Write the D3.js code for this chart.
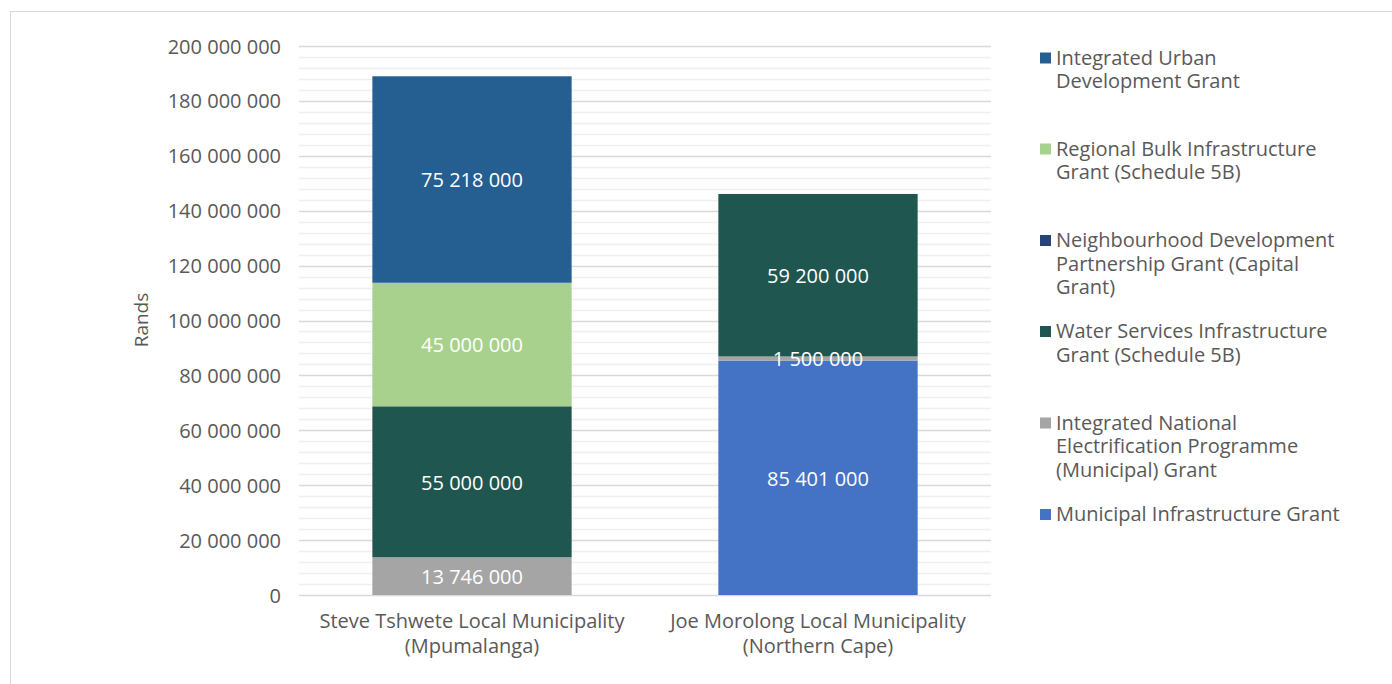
<!DOCTYPE html>
<html><head><meta charset="utf-8">
<script src="https://cdn.jsdelivr.net/npm/d3@7"></script>
<style>
html,body{margin:0;padding:0;background:#fff;}
svg{display:block;font-family:"Open Sans","Noto Sans",sans-serif;}
</style></head>
<body><svg id="c" width="1392" height="684"></svg>
<script>
const categories = [
  ["Steve Tshwete Local Municipality", "(Mpumalanga)"],
  ["Joe Morolong Local Municipality", "(Northern Cape)"]
];
const seriesNames = [
  "Municipal Infrastructure Grant",
  "Integrated National Electrification Programme (Municipal) Grant",
  "Water Services Infrastructure Grant (Schedule 5B)",
  "Neighbourhood Development Partnership Grant (Capital Grant)",
  "Regional Bulk Infrastructure Grant (Schedule 5B)",
  "Integrated Urban Development Grant"
];
const legendLines = [
  ["Municipal Infrastructure Grant"],
  ["Integrated National", "Electrification Programme", "(Municipal) Grant"],
  ["Water Services Infrastructure", "Grant (Schedule 5B)"],
  ["Neighbourhood Development", "Partnership Grant (Capital", "Grant)"],
  ["Regional Bulk Infrastructure", "Grant (Schedule 5B)"],
  ["Integrated Urban", "Development Grant"]
];
const seriesColors = ["#4472C4", "#A5A5A5", "#1F564F", "#264478", "#A9D18E", "#255E91"];
const steveValues = [0, 13746000, 55000000, 0, 45000000, 75218000];
const joeValues = [85401000, 1500000, 59200000, 0, 0, 0];
const yTicks = [0, 20000000, 40000000, 60000000, 80000000, 100000000, 120000000, 140000000, 160000000, 180000000, 200000000];
const minorStep = 4000000;
const yTitle = "Rands";

(function () {
const svg = d3.select("#c");
svg.append("rect").attr("x", 10.5).attr("y", 11.5).attr("width", 1400).attr("height", 700)
  .attr("fill", "none").attr("stroke", "#d9d9d9").attr("stroke-width", 1);

const pL = 299, pR = 991, pT = 46, pB = 595;
const x = d3.scaleBand().domain(categories.map((d, i) => i)).range([pL, pR]).paddingInner(0.424).paddingOuter(0.212);
const y = d3.scaleLinear().domain([0, 200000000]).range([pB, pT]);

const fmt = v => d3.format(",")(v).replace(/,/g, " ");
const FS = 20;

const minor = d3.range(0, 200000001, minorStep).filter(v => v % 20000000 !== 0);
svg.append("g").selectAll("line").data(minor).join("line")
  .attr("x1", pL).attr("x2", pR)
  .attr("y1", d => Math.round(y(d)) + 0.5).attr("y2", d => Math.round(y(d)) + 0.5)
  .attr("stroke", "#f0f0f0").attr("stroke-width", 1.5);
svg.append("g").selectAll("line").data(yTicks).join("line")
  .attr("x1", pL).attr("x2", pR)
  .attr("y1", d => Math.round(y(d)) + 0.5).attr("y2", d => Math.round(y(d)) + 0.5)
  .attr("stroke", "#d9d9d9").attr("stroke-width", 1.5);

const yAxis = svg.append("g").attr("transform", `translate(${pL - 18},0)`)
  .call(d3.axisLeft(y).tickValues(yTicks).tickFormat(fmt).tickSize(0).tickPadding(0));
yAxis.select(".domain").remove();
yAxis.selectAll("text").attr("fill", "#595959").attr("font-size", FS)
  .attr("font-family", "'Open Sans','Noto Sans',sans-serif").attr("dy", "0.35em");

svg.append("text").attr("transform", `translate(148,320) rotate(-90)`)
  .attr("text-anchor", "middle").attr("fill", "#595959").attr("font-size", 19).text(yTitle);

const rows = [steveValues, joeValues].map((vals, i) => {
  const o = { cat: i };
  seriesNames.forEach((s, j) => o[s] = vals[j]);
  return o;
});
const stacked = d3.stack().keys(seriesNames)(rows);

const gBars = svg.append("g");
stacked.forEach((layer, j) => {
  layer.forEach(seg => {
    const v = seg[1] - seg[0];
    if (v <= 0) return;
    gBars.append("rect")
      .attr("x", x(seg.data.cat)).attr("width", x.bandwidth())
      .attr("y", y(seg[1])).attr("height", y(seg[0]) - y(seg[1]))
      .attr("fill", seriesColors[j]);
  });
});
stacked.forEach((layer, j) => {
  layer.forEach(seg => {
    const v = seg[1] - seg[0];
    if (v <= 0) return;
    gBars.append("text")
      .attr("x", x(seg.data.cat) + x.bandwidth() / 2)
      .attr("y", (y(seg[0]) + y(seg[1])) / 2 + 2.5)
      .attr("text-anchor", "middle").attr("dominant-baseline", "middle")
      .attr("fill", "#ffffff").attr("font-size", FS).text(fmt(v));
  });
});

categories.forEach((lines, i) => {
  const t = svg.append("text").attr("text-anchor", "middle").attr("fill", "#595959").attr("font-size", FS);
  lines.forEach((ln, k) => {
    t.append("tspan").attr("x", x(i) + x.bandwidth() / 2).attr("y", 628 + k * 25).text(ln);
  });
});

const legendY = [64.5, 155.5, 247, 338, 429.5, 521];
const legendOrder = d3.range(seriesNames.length).reverse();
legendOrder.forEach((j, k) => {
  const g = svg.append("g");
  const y0 = legendY[k];
  g.append("rect").attr("x", 1040).attr("y", y0 - 12).attr("width", 11).attr("height", 11).attr("fill", seriesColors[j]);
  const t = g.append("text").attr("fill", "#595959").attr("font-size", FS);
  legendLines[j].forEach((ln, m) => {
    t.append("tspan").attr("x", 1056).attr("y", y0 + m * 23.7).text(ln);
  });
});
})();
</script></body></html>
